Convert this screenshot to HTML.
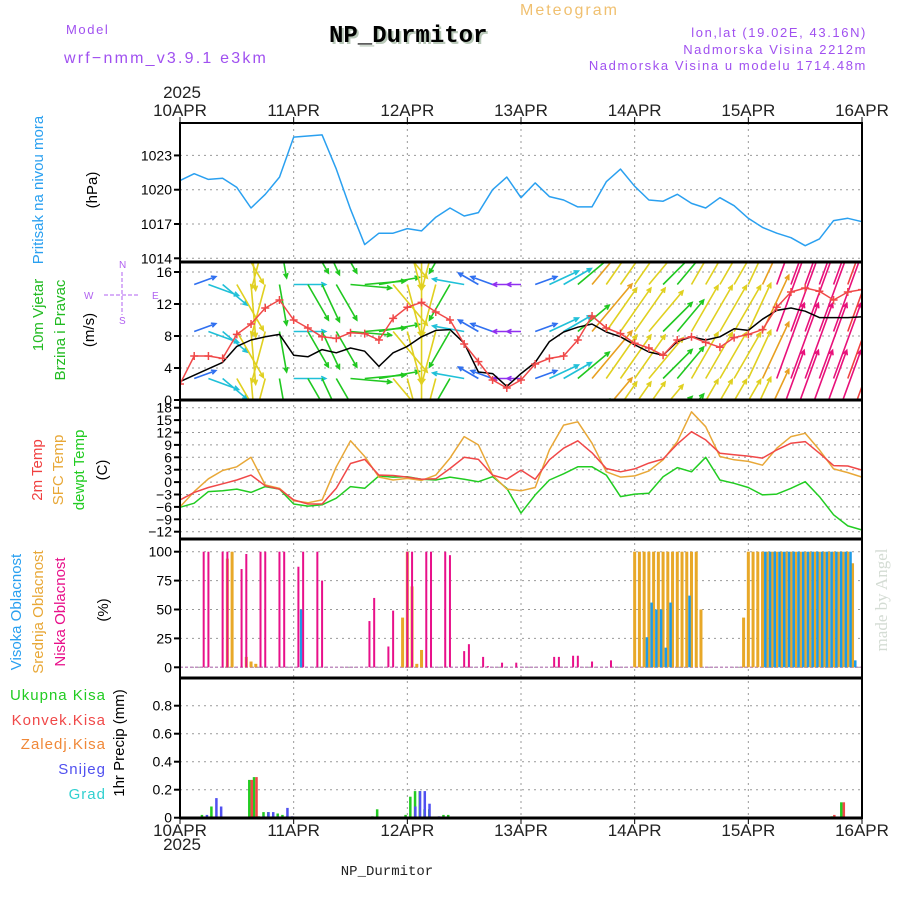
<!DOCTYPE html>
<html><head><meta charset="utf-8">
<style>
html,body{margin:0;padding:0;background:#fff;}
svg{display:block;font-family:"Liberation Sans",sans-serif;}
.tk{font-size:14px;fill:#000;text-anchor:end;}
.dl{font-size:17px;fill:#222;text-anchor:middle;}
.pu{fill:#a050f0;font-size:13px;letter-spacing:1.6px;}
</style></head>
<body>
<svg id="chart" width="900" height="900" viewBox="0 0 900 900" xmlns="http://www.w3.org/2000/svg">
<defs>
<clipPath id="windClip"><rect x="181" y="263" width="680" height="136"/></clipPath>
</defs>
<!-- header -->
<text x="66" y="34" class="pu" font-size="14">Model</text>
<text x="64" y="63" class="pu" style="font-size:16px;letter-spacing:2.2px">wrf−nmm_v3.9.1 e3km</text>
<text x="331" y="44" font-family="Liberation Mono, monospace" font-weight="bold" font-size="24" fill="#b8c8b8">NP_Durmitor</text>
<text x="329" y="42" font-family="Liberation Mono, monospace" font-weight="bold" font-size="24" fill="#000">NP_Durmitor</text>
<text x="520" y="15" fill="#f0c070" font-size="16" letter-spacing="2">Meteogram</text>
<text x="867" y="37" class="pu" text-anchor="end">lon,lat (19.02E, 43.16N)</text>
<text x="867" y="54" class="pu" text-anchor="end">Nadmorska Visina 2212m</text>
<text x="867" y="70" class="pu" text-anchor="end">Nadmorska Visina u modelu 1714.48m</text>
<text x="182" y="98" class="dl">2025</text>
<text x="182" y="850" class="dl">2025</text>
<text x="387" y="875" font-family="Liberation Mono, monospace" font-size="14" fill="#222" text-anchor="middle">NP_Durmitor</text>
<text transform="translate(887,600) rotate(-90)" text-anchor="middle" font-family="Liberation Serif, serif" font-size="17" fill="#d4dcd4">made by Angel</text>

<!-- axis titles -->
<text transform="translate(43,190) rotate(-90)" text-anchor="middle" fill="#2aa0f0" font-size="15">Pritisak na nivou mora</text>
<text transform="translate(97,190) rotate(-90)" text-anchor="middle" fill="#000" font-size="15">(hPa)</text>
<text transform="translate(43,315) rotate(-90)" text-anchor="middle" fill="#22bb22" font-size="15">10m Vjetar</text>
<text transform="translate(65,330) rotate(-90)" text-anchor="middle" fill="#22bb22" font-size="15">Brzina i Pravac</text>
<text transform="translate(94,330) rotate(-90)" text-anchor="middle" fill="#000" font-size="15">(m/s)</text>
<g fill="#b060f0" stroke="#b060f0" font-size="10">
<text x="119" y="268" stroke="none">N</text><text x="84" y="299" stroke="none">W</text><text x="152" y="299" stroke="none">E</text><text x="119" y="324" stroke="none">S</text>
<line x1="104" y1="295" x2="138" y2="295" stroke-dasharray="4,2"/><line x1="122" y1="272" x2="122" y2="315" stroke-dasharray="4,2"/>
</g>
<text transform="translate(42,470) rotate(-90)" text-anchor="middle" fill="#f04040" font-size="15">2m Temp</text>
<text transform="translate(63,470) rotate(-90)" text-anchor="middle" fill="#e8a838" font-size="15">SFC Temp</text>
<text transform="translate(84,470) rotate(-90)" text-anchor="middle" fill="#22cc22" font-size="15">dewpt Temp</text>
<text transform="translate(107,470) rotate(-90)" text-anchor="middle" fill="#000" font-size="15">(C)</text>
<text transform="translate(21,612) rotate(-90)" text-anchor="middle" fill="#2aa0f0" font-size="15">Visoka Oblacnost</text>
<text transform="translate(43,612) rotate(-90)" text-anchor="middle" fill="#e8a838" font-size="15">Srednja Oblacnost</text>
<text transform="translate(65,612) rotate(-90)" text-anchor="middle" fill="#e8108a" font-size="15">Niska Oblacnost</text>
<text transform="translate(108,610) rotate(-90)" text-anchor="middle" fill="#000" font-size="15">(%)</text>
<g font-size="15" text-anchor="end" letter-spacing="1">
<text x="106" y="700" fill="#22cc22">Ukupna Kisa</text>
<text x="106" y="725" fill="#f04848">Konvek.Kisa</text>
<text x="106" y="749" fill="#f08838">Zaledj.Kisa</text>
<text x="106" y="774" fill="#5050f0">Snijeg</text>
<text x="106" y="799" fill="#30d0d0">Grad</text>
</g>
<text transform="translate(124,743) rotate(-90)" text-anchor="middle" fill="#000" font-size="15">1hr Precip (mm)</text>
<g id="plot"></g>
</svg>
<script>
// ---- data (3-hourly unless stated) ----
const dayLabels = ["10APR","11APR","12APR","13APR","14APR","15APR","16APR"];
const hours3 = [0,3,6,9,12,15,18,21,24,27,30,33,36,39,42,45,48,51,54,57,60,63,66,69,72,75,78,81,84,87,90,93,96,99,102,105,108,111,114,117,120,123,126,129,132,135,138,141,144];
const pressure = [1020.8,1021.4,1020.9,1021.0,1020.2,1018.4,1019.6,1021.1,1024.6,1024.7,1024.8,1021.8,1018.3,1015.2,1016.2,1016.2,1016.6,1016.4,1017.6,1018.4,1017.7,1018.0,1020.0,1021.1,1019.3,1020.6,1019.4,1019.1,1018.5,1018.5,1020.7,1021.8,1020.3,1019.1,1019.0,1019.6,1018.8,1018.4,1019.3,1018.6,1017.5,1016.7,1016.2,1015.8,1015.1,1015.7,1017.3,1017.5,1017.2];
const pressureTicks = [1014,1017,1020,1023];
const windSpeed = [2.3,3.1,3.9,4.7,6.7,7.5,7.9,8.2,5.6,5.4,6.3,5.9,6.5,6.1,4.2,5.9,6.7,7.9,8.7,8.8,7.1,3.5,3.3,1.7,3.3,4.7,7.3,8.5,9.1,9.5,8.5,7.9,6.9,6.0,5.6,7.3,7.9,7.5,7.9,8.9,8.7,10.1,11.2,11.5,11.1,10.3,10.3,10.3,10.4];
const windGust = [2.0,5.5,5.5,5.2,8.2,9.5,11.5,12.5,10.0,9.0,7.9,7.7,8.4,8.3,7.5,10.2,11.6,12.2,11.0,10.0,7.0,4.8,2.5,1.5,2.5,4.5,5.2,5.5,7.5,10.5,9.0,8.3,7.1,6.5,5.6,7.5,7.9,7.2,6.6,7.8,8.2,8.8,11.6,13.5,14.0,13.6,12.5,13.5,13.8];
const windDir = [90,250,290,310,330,355,15,350,270,330,335,330,275,265,260,320,345,0,15,30,100,120,110,90,90,250,245,240,230,220,215,215,215,220,225,220,210,210,210,210,205,205,200,200,200,200,200,200,200];
const arrowSpeed = [1.5,3,4.5,4.5,8,8,8,6,4.5,6,6,6,6,6,6,8,8,8,8,6,4.5,3,3,1.5,1.5,3,4.5,4.5,6,9.5,8,8,8,8,6,6,8,8,8,8,8,9.5,12.5,12.5,12.5,12.5,12.5,11,11];
const windTicks = [0,4,8,12,16];
const temp2m = [-4.3,-2.5,-1.3,-0.4,0.5,1.7,-0.9,-1.7,-4.3,-5.3,-5.3,-1.5,4.5,5.5,1.7,1.6,1.2,0.7,0.8,3.3,6.0,5.5,1.7,0.7,2.9,0.7,5.4,8.2,10.0,7.1,3.3,2.5,3.2,4.6,5.6,9.2,12.2,10.2,7.0,6.6,6.3,5.8,7.8,9.4,9.8,7.0,4.0,3.9,2.9];
const tempSfc = [-6.0,-2.3,0.8,2.8,3.7,6.0,-0.7,-1.5,-4.5,-5.0,-4.3,3.7,10.0,6.2,1.2,0.5,0.9,0.4,1.7,5.8,11.0,9.0,1.7,-1.7,-2.1,-1.3,7.8,13.8,14.6,9.4,2.5,1.2,1.5,2.7,5.4,9.8,17.0,13.4,6.2,5.4,5.0,4.1,8.2,11.0,11.8,7.8,3.2,2.3,1.2];
const dewpt = [-6.1,-5.1,-2.3,-2.1,-1.7,-2.5,-1.1,-1.7,-5.3,-5.8,-5.5,-3.9,-1.1,-1.5,1.5,1.2,1.3,0.7,0.5,1.2,0.7,0.1,1.3,-1.5,-7.5,-3.1,0.5,2.0,3.7,3.7,1.7,-3.5,-2.9,-2.7,1.3,3.5,2.5,6.0,0.5,-0.3,-1.3,-3.1,-2.9,-1.5,0.1,-3.5,-7.9,-10.6,-11.6];
const tempTicks = [-12,-9,-6,-3,0,3,6,9,12,15,18];
// cloud (hourly bars)
const lowHours = [5,6,9,10,13,14,17,18,21,22,25,26,29,30,40,41,44,45,48,49,52,53,56,57,60,61,64,65,68,71,79,80,83,84,87,91];
const lowVals = [100,100,100,100,85,98,100,100,100,100,87,100,100,75,40,60,18,49,100,100,100,100,100,97,14,20,9,1,4,4,9,9,10,10,5,6];
const midHours = [10,11,14,15,16,47,48,49,50,51,96,97,98,99,100,101,102,103,104,105,106,107,108,109,110,119,120,121,122,123,124,125,126,127,128,129,130,131,132,133,134,135,136,137,138,139,140,141,142];
const midVals = [94,100,9,5,3,43,100,70,3,15,100,100,100,100,100,100,100,100,100,100,100,100,100,100,50,43,100,100,100,100,100,100,100,100,100,100,100,100,100,100,100,100,100,100,100,100,100,100,90];
const highHours = [25,98,99,100,101,102,103,107,123,124,125,126,127,128,129,130,131,132,133,134,135,136,137,138,139,140,141,142];
const highVals = [50,26,56,50,50,17,56,62,100,100,100,100,100,100,100,100,100,100,100,100,100,100,100,100,100,100,100,6];
const cloudTicks = [0,25,50,75,100];
// precip (hourly)
const precipHours = [5,6,7,8,15,16,17,18,19,20,21,22,23,41,42,48,49,50,51,52,53,54,56,57,138,140];
const precipTotal = [0.02,0,0.08,0,0.27,0.29,0.01,0.04,0.04,0.01,0.03,0.02,0.01,0.01,0.06,0.02,0.15,0.19,0.19,0.06,0.06,0,0.02,0.02,0.01,0.11];
const precipConv = [0,0,0,0,0.27,0.29,0,0,0,0,0,0,0,0,0,0,0,0,0,0,0,0,0,0,0.02,0.11];
const precipSnow = [0.02,0,0.14,0.08,0,0,0.01,0.04,0.04,0.01,0,0.07,0.01,0,0,0,0.08,0.19,0.19,0.1,0,0.01,0,0,0,0];
const precipTicks = [0,0.2,0.4,0.6,0.8];

// ---- scales ----
const NS = "http://www.w3.org/2000/svg";
const X0 = 180, X1 = 862;
const xH = h => X0 + h * (X1 - X0) / 144;
const yP = p => 258.3 - (p - 1014) * 11.43;
const yW = v => 400 - v * 8;
const yT = t => 482.1 - t * 4.133;
const yC = c => 667.3 - c * 1.156;
const yR = r => 817.7 - r * 140;
const plot = document.getElementById('plot');
function mk(tag, attrs, parent) {
  const e = document.createElementNS(NS, tag);
  for (const k in attrs) e.setAttribute(k, attrs[k]);
  (parent || plot).appendChild(e);
  return e;
}
const panels = [[123,262],[262,400],[400,539],[539,678],[678,818]];

// vertical day grid
dayLabels.forEach((d, i) => {
  const x = xH(i * 24);
  if (i > 0 && i < 6) {
    const g = mk('line', {x1:x, y1:123, x2:x, y2:818, stroke:'#999', 'stroke-dasharray':'2,4'});
    
    
  }
  const t1 = mk('text', {x:x, y:116, class:'dl'}); t1.textContent = d;
  
  
  const t2 = mk('text', {x:x, y:836, class:'dl'}); t2.textContent = d;
  
  
  mk('line', {x1:x, y1:117, x2:x, y2:123, stroke:'#000'});
  mk('line', {x1:x, y1:818, x2:x, y2:824, stroke:'#000'});
});

function yAxis(ticks, sc, fmt, name) {
  ticks.forEach(v => {
    const y = sc(v);
    const g = mk('line', {x1:X0, y1:y, x2:X1, y2:y, stroke:'#999', 'stroke-dasharray':'2,4'});
    
    
    mk('line', {x1:174, y1:y, x2:X0, y2:y, stroke:'#000', 'stroke-width':2});
    const t = mk('text', {x:172, y:y + 5, class:'tk'});
    t.textContent = fmt(v);
    
    
  });
}
yAxis(pressureTicks, yP, v => String(v), 'pressure');
yAxis(windTicks, yW, v => String(v), 'wind');
yAxis(tempTicks, yT, v => (v < 0 ? '−' + (-v) : String(v)), 'temp');
yAxis(cloudTicks, yC, v => String(v), 'cloud');
yAxis(precipTicks, yR, v => (v === 0 ? '0' : v.toFixed(1)), 'precip');

function line(vals, sc, color, name, parent) {
  const d = vals.map((v, i) => (i ? 'L' : 'M') + xH(hours3[i]).toFixed(1) + ',' + sc(v).toFixed(1)).join('');
  const p = mk('path', {d:d, fill:'none', stroke:color, 'stroke-width':1.5, 'stroke-linejoin':'round'}, parent);
  
  
  return p;
}
// pressure
line(pressure, yP, '#2aa0f0', 'pressure-line');

// wind arrows
const wg = mk('g', {'clip-path':'url(#windClip)'});


const rows = [237.5, 284.5, 331.5, 378.5, 425.5];
function spdColor(s) {
  if (s < 2) return '#9030f0';
  if (s < 3.5) return '#3070f0';
  if (s < 5) return '#20c0d8';
  if (s < 7) return '#20c820';
  if (s < 9) return '#e0d020';
  if (s < 10.5) return '#e8a020';
  if (s < 12) return '#f04040';
  return '#e8107a';
}
windDir.forEach((dir, i) => {
  const s = arrowSpeed[i];
  const L = 6 * s + 5;
  const b = (dir + 180) * Math.PI / 180;
  const dx = L * Math.sin(b), dy = -L * Math.cos(b);
  const col = spdColor(s);
  rows.forEach(r => {
    const x = xH(hours3[i]);
    const tx = x + dx, ty = r + dy;
    const a = Math.atan2(dy, dx);
    const h1x = tx - 5 * Math.cos(a - 0.45), h1y = ty - 5 * Math.sin(a - 0.45);
    const h2x = tx - 5 * Math.cos(a + 0.45), h2y = ty - 5 * Math.sin(a + 0.45);
    const p = mk('path', {d:`M${x},${r}L${tx},${ty}M${h1x},${h1y}L${tx},${ty}L${h2x},${h2y}`, stroke:col, 'stroke-width':1.6, fill:'none'}, wg);
    
    
  });
});
line(windSpeed, yW, '#000', 'wind-speed-line', wg);
line(windGust, yW, '#f04848', 'wind-gust-line', wg);
windGust.forEach((v, i) => {
  const x = xH(hours3[i]), y = yW(v);
  const m = mk('path', {d:`M${x-4},${y}H${x+4}M${x},${y-4}V${y+4}`, stroke:'#f04848', 'stroke-width':1.5}, wg);
  
  
});

// temperatures
line(dewpt, yT, '#22cc22', 'dewpoint-line');
line(tempSfc, yT, '#e8a838', 'sfc-temp-line');
line(temp2m, yT, '#f04848', 'temp-2m-line');

// clouds
function bars(hrs, vals, off, w, color, name, sc, base) {
  hrs.forEach((h, i) => {
    if (vals[i] <= 0) return;
    const y = sc(vals[i]);
    const r = mk('rect', {x:xH(h) + off, y:y, width:w, height:Math.max(0.5, base - y), fill:color});
    
    
  });
}
mk('line', {x1:X0, y1:667.3, x2:X1, y2:667.3, stroke:'#c090c0', 'stroke-width':1.5, 'stroke-dasharray':'3,2'});
bars(midHours, midVals, -1.5, 3, '#e8a828', 'mid-cloud-bar', yC, 667.3);
bars(highHours, highVals, 1.5, 2.5, '#1e9be8', 'high-cloud-bar', yC, 667.3);
bars(lowHours, lowVals, -1, 2, '#e8108a', 'low-cloud-bar', yC, 667.3);

// precip
bars(precipHours, precipTotal, -3, 2.5, '#22cc22', 'total-precip-bar', yR, 817.7);
bars(precipHours, precipConv, -0.5, 2.5, '#f04848', 'convective-precip-bar', yR, 817.7);
bars(precipHours, precipSnow, 2, 2.5, '#5050f0', 'snow-bar', yR, 817.7);

// frames
panels.forEach(([a, b], i) => {
  const f = mk('rect', {x:X0, y:a, width:X1 - X0, height:b - a, fill:'none', stroke:'#000', 'stroke-width':2});
  
  
});
[262, 400, 539, 678].forEach(y => mk('line', {x1:X0, y1:y, x2:X1, y2:y, stroke:'#000', 'stroke-width':3}));
mk('line', {x1:X0, y1:818, x2:X1, y2:818, stroke:'#000', 'stroke-width':3});
</script>
</body></html>
